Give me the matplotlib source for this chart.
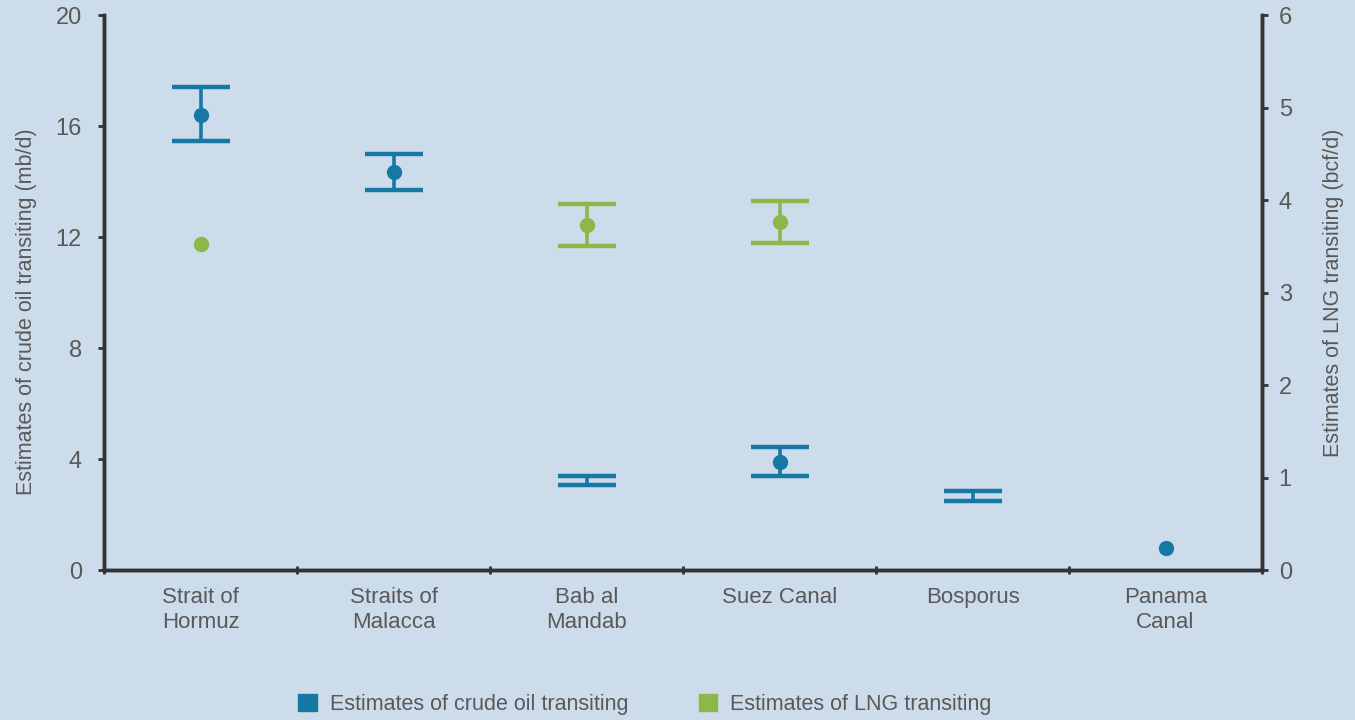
import matplotlib.pyplot as plt
import matplotlib as mpl
from matplotlib.patches import Patch
import numpy as np

mpl.rcParams["font.family"] = ["Liberation Sans", "DejaVu Sans"]

# 数据
chokepoints = ["Strait of\nHormuz", "Straits of\nMalacca", "Bab al\nMandab", "Suez Canal", "Bosporus", "Panama\nCanal"]
crude_mid = [16.4, 14.35, np.nan, 3.9, np.nan, 0.8]
crude_low = [15.45, 13.7, 3.05, 3.4, 2.5, np.nan]
crude_high = [17.4, 15.0, 3.4, 4.45, 2.85, np.nan]
lng_mid = [3.52, np.nan, 3.73, 3.76, np.nan, np.nan]
lng_low = [np.nan, np.nan, 3.5, 3.54, np.nan, np.nan]
lng_high = [np.nan, np.nan, 3.96, 3.99, np.nan, np.nan]

BG = "#cddcea"
BLUE = "#1778a6"
GREEN = "#8cb84a"
AXC = "#333333"
TXT = "#595959"

fig = plt.figure(figsize=(13.55, 7.2), dpi=100, facecolor=BG)
ax = fig.add_axes([0.0768, 0.2083, 0.8546, 0.7707], facecolor=BG)
ax2 = ax.twinx()

x = np.arange(len(chokepoints)) + 0.5


def draw_range(axis, xs, lo, hi, mid, color):
    for xi, l, h, m in zip(xs, lo, hi, mid):
        if not (np.isnan(l) or np.isnan(h)):
            axis.plot([xi, xi], [l, h], color=color, lw=2.6, solid_capstyle="butt", zorder=3)
            for yv in (l, h):
                axis.plot([xi - 0.15, xi + 0.15], [yv, yv], color=color, lw=3.2,
                          solid_capstyle="butt", zorder=3)
        if not np.isnan(m):
            axis.plot(xi, m, "o", color=color, ms=10, zorder=4)


draw_range(ax, x, crude_low, crude_high, crude_mid, BLUE)
draw_range(ax2, x, lng_low, lng_high, lng_mid, GREEN)

ax.set_xlim(0, 6)
ax.set_ylim(0, 20)
ax2.set_ylim(0, 6)
ax.set_yticks([0, 4, 8, 12, 16, 20])
ax2.set_yticks(range(7))
ax.set_xticks(range(7))
ax.set_xticklabels([])
ax.set_xticks(x, minor=True)
ax.set_xticklabels(chokepoints, minor=True, fontsize=16, color=TXT, linespacing=1.25)
ax.tick_params(axis="x", which="minor", length=0, pad=12)
ax.tick_params(axis="x", which="major", length=6, width=2, color=AXC, direction="inout")
ax.tick_params(axis="y", length=4, width=2, color=AXC, direction="out", labelsize=17,
               labelcolor=TXT, pad=12)
ax2.tick_params(axis="y", length=4, width=2, color=AXC, direction="out", labelsize=17,
                labelcolor=TXT, pad=8)

for a in (ax, ax2):
    a.spines["top"].set_visible(False)
    for side in ("left", "right", "bottom"):
        a.spines[side].set_color(AXC)
        a.spines[side].set_linewidth(2.5)

ax.set_ylabel("Estimates of crude oil transiting (mb/d)", fontsize=15.5, color=TXT)
ax.yaxis.set_label_coords(-0.058, 0.465)
ax2.set_ylabel("Estimates of LNG transiting (bcf/d)", fontsize=15.5, color=TXT, labelpad=22)

handles = [Patch(color=BLUE, label="Estimates of crude oil transiting"),
           Patch(color=GREEN, label="Estimates of LNG transiting")]
fig.legend(handles=handles, loc="center", bbox_to_anchor=(0.476, 0.022), ncol=2, frameon=False,
           fontsize=15.5, labelcolor=TXT, handlelength=0.85, handleheight=0.85, columnspacing=3.3,
           handletextpad=0.6)

fig.savefig("out.png", dpi=100, facecolor=BG)
